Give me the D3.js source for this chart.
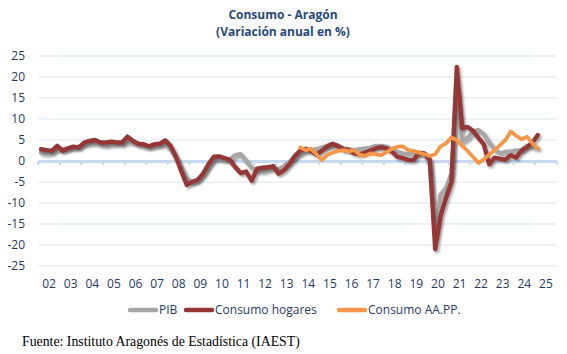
<!DOCTYPE html>
<html>
<head>
<meta charset="utf-8">
<script src="https://cdn.jsdelivr.net/npm/d3@7"></script>
<style>
  body { margin: 0; background: #fff; }
  svg { display: block; font-family: "Open Sans", sans-serif; }
</style>
</head>
<body>
<svg id="chart"></svg>
<script>
// year labels on the x axis, data is quarterly (2002T1 .. 2025T1)
const years = ['02','03','04','05','06','07','08','09','10','11','12','13',
               '14','15','16','17','18','19','20','21','22','23','24','25'];
const quarters = years.flatMap(y => ['T1','T2','T3','T4'].map(q => y + q));

const yTicks = [25, 20, 15, 10, 5, 0, -5, -10, -15, -20, -25];

const pib = [
  2.0, 1.8, 2.0, 2.8,   2.8, 3.0, 3.2, 3.4,   4.0, 4.2, 4.4, 4.0,
  3.8, 4.0, 4.2, 4.0,   4.6, 4.4, 4.0, 3.6,   3.3, 3.6, 3.8, 4.0,
  2.8, 0.8, -1.6, -4.2, -5.0, -4.6, -3.2, -1.2, 0.4, 0.6, 0.2, 0.4,
  1.4, 1.6, 0.0, -1.6,  -2.2, -2.4, -2.0, -1.8, -2.0, -1.2, -0.2, 1.0,
  1.8, 2.4, 2.6, 2.8,   3.2, 3.6, 3.8, 3.4,   3.0, 2.8, 2.6, 2.8,
  3.0, 3.2, 3.6, 3.6,   3.4, 2.8, 2.2, 1.8,   1.6, 1.8, 1.8, 1.6,
  -0.5, -18.0, -8.0, -6.5, -3.0, 17.0, 4.6, 5.5, 7.0, 7.4, 6.4, 4.4,
  2.8, 1.8, 2.2, 2.2,   2.5, 2.6, 3.6, 3.5,   3.0
];

const hogares = [
  2.8, 2.6, 2.4, 3.6,   2.4, 3.0, 3.4, 3.2,   4.4, 4.8, 5.0, 4.4,
  4.4, 4.6, 4.4, 4.4,   5.8, 4.8, 4.1, 4.0,   3.5, 4.0, 4.1, 4.9,
  3.6, 1.0, -2.5, -5.7, -5.0, -4.5, -3.0, -0.8, 1.0, 1.1, 0.7, 0.2,
  -1.5, -2.9, -2.5, -4.7, -1.8, -1.6, -1.5, -1.2, -3.0, -2.2, -0.8, 1.2,
  2.5, 2.9, 2.4, 1.5,   2.4, 3.5, 4.1, 3.6,   2.8, 2.6, 1.8, 1.6,
  2.0, 2.5, 3.0, 3.3,   3.0, 2.2, 1.0, 0.7,   0.2, 0.2, 2.0, 1.8,
  0.3, -21.0, -13.0, -8.8, -5.0, 22.4, 7.8, 8.1, 7.2, 5.5, 4.0, -0.8,
  0.8, 0.5, 0.3, 1.4,   0.8, 2.5, 3.3, 4.4,   6.2
];

const aapp = [
  null, null, null, null, null, null, null, null, null, null, null, null,
  null, null, null, null, null, null, null, null, null, null, null, null,
  null, null, null, null, null, null, null, null, null, null, null, null,
  null, null, null, null, null, null, null, null, null, null, null, null,
  3.2, 2.6, 2.9, 1.6,   0.2, 1.4, 2.0, 2.4,   2.6, 2.3, 2.6, 1.5,
  1.2, 1.8, 1.6, 1.4,   2.1, 2.9, 3.4, 3.5,   2.6, 2.4, 2.0, 1.6,
  1.2, 1.6, 3.5, 4.2,   5.6, 5.0, 3.6, 2.4,   1.0, -0.5, 0.4, 1.5,
  2.6, 3.8, 5.0, 7.0,   6.0, 5.2, 5.8, 4.2,   3.0
];

const seriesNames = ['PIB', 'Consumo hogares', 'Consumo AA.PP.'];
const seriesColors = ['#a6a6a6', '#953735', '#f79646'];

const width = 567, height = 354;
const svg = d3.select('#chart').attr('width', width).attr('height', height);

const x = d3.scaleBand().domain(quarters).range([38.3, 556.7]);
const xYear = d3.scaleBand().domain(years).range([38.3, 556.7]);
const y = d3.scaleLinear().domain([-25, 25]).range([266, 56]);

// shadow under the two darker lines
const defs = svg.append('defs');
defs.append('filter').attr('id', 'shadow')
    .attr('x', '-5%').attr('y', '-5%').attr('width', '110%').attr('height', '110%')
  .append('feDropShadow')
    .attr('dx', 1.8).attr('dy', 2)
    .attr('stdDeviation', 1.2)
    .attr('flood-color', '#000')
    .attr('flood-opacity', 0.35);

// title
const title = svg.append('text')
    .attr('text-anchor', 'middle')
    .attr('fill', '#1f497d')
    .style('font-weight', 'bold')
    .style('font-size', '12px');
title.append('tspan').attr('x', 283).attr('y', 19).text('Consumo - Aragón');
title.append('tspan').attr('x', 283).attr('y', 36).text('(Variación anual en %)');

// gridlines
svg.append('g')
  .selectAll('line')
  .data(yTicks.filter(d => d !== 0))
  .join('line')
    .attr('x1', 38.3).attr('x2', 556.7)
    .attr('y1', d => y(d)).attr('y2', d => y(d))
    .attr('stroke', '#dae5f3')
    .attr('stroke-width', 1.2);

// y labels
svg.append('g')
  .selectAll('text')
  .data(yTicks)
  .join('text')
    .attr('x', 25)
    .attr('y', d => y(d) + 4)
    .attr('text-anchor', 'end')
    .attr('fill', '#1f3864')
    .style('font-size', '12px')
    .text(d => d);

// zero axis with year ticks
const xAxis = svg.append('g').attr('transform', `translate(0,${y(0)})`)
    .call(d3.axisBottom(xYear).tickSize(0).tickFormat(''));
xAxis.select('.domain').attr('stroke', '#c6d9f1').attr('stroke-width', 3);
xAxis.selectAll('.yt')
  .data(years.concat(['end']))
  .join('line')
    .attr('class', 'yt')
    .attr('x1', (d, i) => i < years.length ? xYear(d) : xYear.range()[1])
    .attr('x2', (d, i) => i < years.length ? xYear(d) : xYear.range()[1])
    .attr('y1', 0).attr('y2', 4)
    .attr('stroke', '#c6d9f1')
    .attr('stroke-width', 2);

// year labels
svg.append('g')
  .selectAll('text')
  .data(years)
  .join('text')
    .attr('x', d => xYear(d) + xYear.bandwidth() / 2)
    .attr('y', 288)
    .attr('text-anchor', 'middle')
    .attr('fill', '#1f3864')
    .style('font-size', '12px')
    .text(d => d);

// series
const line = d3.line()
    .defined(d => d.v !== null)
    .x(d => x(d.q) + x.bandwidth() / 2)
    .y(d => y(d.v));

const allSeries = [pib, hogares, aapp];
allSeries.forEach((values, i) => {
  const pts = values.map((v, k) => ({ q: quarters[k], v: v }));
  svg.append('path')
    .datum(pts)
    .attr('d', line)
    .attr('fill', 'none')
    .attr('stroke', seriesColors[i])
    .attr('stroke-width', i === 2 ? 3.8 : 4.4)
    .attr('stroke-linejoin', 'round')
    .attr('stroke-linecap', 'round')
    .attr('filter', i < 2 ? 'url(#shadow)' : null);
});

// legend
const legendX = [130, 186, 339];
const legend = svg.append('g');
seriesNames.forEach((name, i) => {
  legend.append('line')
    .attr('x1', legendX[i]).attr('x2', legendX[i] + 26)
    .attr('y1', 310).attr('y2', 310)
    .attr('stroke', seriesColors[i])
    .attr('stroke-width', 4.4)
    .attr('stroke-linecap', 'round');
  legend.append('text')
    .attr('x', legendX[i] + 29)
    .attr('y', 314)
    .attr('fill', '#1f3864')
    .style('font-size', '12px')
    .text(name);
});

// source note
svg.append('text')
    .attr('x', 22)
    .attr('y', 346)
    .style('font-family', '"Liberation Serif", "Times New Roman", serif')
    .style('font-size', '13.8px')
    .attr('fill', '#000')
    .text('Fuente: Instituto Aragonés de Estadística (IAEST)');
</script>
</body>
</html>
